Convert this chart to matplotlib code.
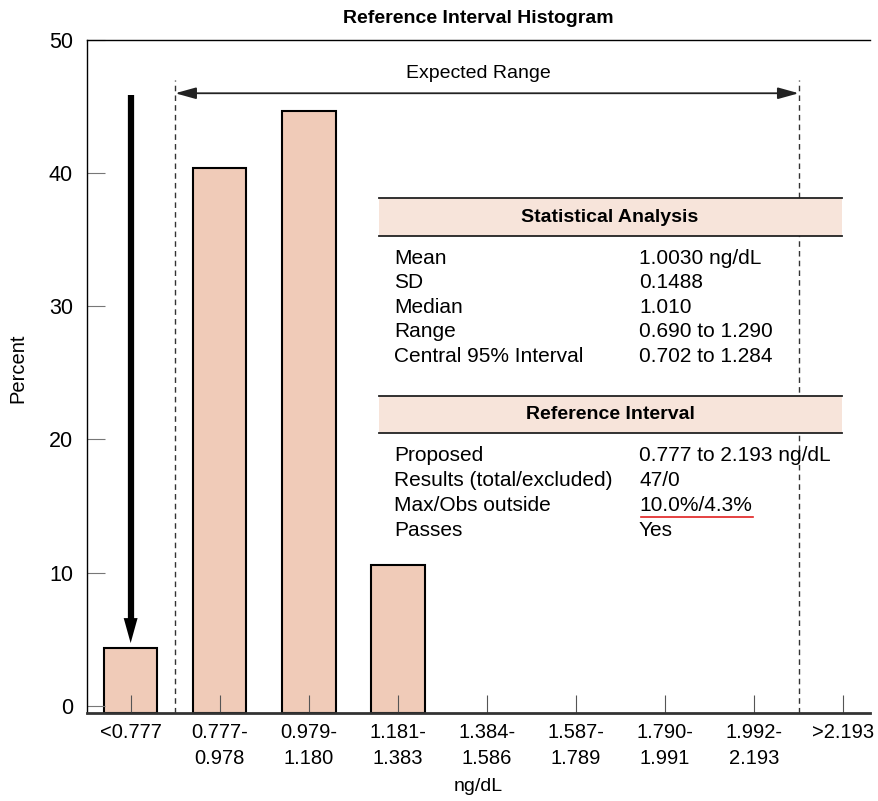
import matplotlib
matplotlib.use("Agg")
import matplotlib.pyplot as plt

plt.rcParams['font.family'] = ['Liberation Sans', 'DejaVu Sans']

# histogram data (percent of 47 results)
bins = ['<0.777', '0.777-\n0.978', '0.979-\n1.180', '1.181-\n1.383', '1.384-\n1.586',
        '1.587-\n1.789', '1.790-\n1.991', '1.992-\n2.193', '>2.193']
percent = [4.3, 40.4, 44.7, 10.6, 0, 0, 0, 0, 0]

stat_labels = ['Mean', 'SD', 'Median', 'Range', 'Central 95% Interval']
stat_values = ['1.0030 ng/dL', '0.1488', '1.010', '0.690 to 1.290', '0.702 to 1.284']
ref_labels = ['Proposed', 'Results (total/excluded)', 'Max/Obs outside', 'Passes']
ref_values = ['0.777 to 2.193 ng/dL', '47/0', '10.0%/4.3%', 'Yes']

bar_col = '#f0cbb8'
band_col = '#f7e4da'
W, H = 879, 801

fig = plt.figure(figsize=(8.79, 8.01), dpi=100)
ax = fig.add_axes([87 / W, 1 - 713 / H, (870 - 87) / W, (713 - 40) / H])

ymin = -0.55
xs = list(range(len(bins)))
for x, p in zip(xs, percent):
    if p > 0:
        ax.bar(x, p - ymin, bottom=ymin, width=0.6, color=bar_col,
               edgecolor='black', linewidth=1.5, zorder=1)
ax.set_xlim(-0.49, 8.3)
ax.set_ylim(ymin, 50)
ax.set_xticks(xs)
ax.set_xticklabels(bins, fontsize=14.5, linespacing=1.5)
ax.set_yticks([0, 10, 20, 30, 40, 50])
ax.tick_params(axis='y', direction='in', length=13, color='#777777', labelsize=15.5, pad=10)
ax.tick_params(axis='x', direction='in', length=13, color='#555555', pad=7)
ax.spines['right'].set_visible(False)
ax.spines['top'].set_linewidth(1.0)
ax.spines['left'].set_linewidth(1.0)
ax.spines['bottom'].set_linewidth(2.0)
ax.spines['bottom'].set_color('#333333')

ax.set_title('Reference Interval Histogram', fontsize=14, fontweight='bold', pad=12)
ax.set_ylabel('Percent', fontsize=14.5)
ax.yaxis.set_label_coords(-60 / 783, 0.513)
ax.set_xlabel('ng/dL', fontsize=14, labelpad=7)

# expected range markers
for xv in [0.5, 7.5]:
    ax.plot([xv, xv], [ymin, 47.0], ls=(0, (4, 3)), color='#333333', lw=1, zorder=0)
ax.annotate('', xy=(0.5, 46.0), xytext=(7.5, 46.0),
            arrowprops=dict(arrowstyle='<|-|>,head_length=0.9,head_width=0.25', color='#222222',
                            lw=1.3, mutation_scale=14, shrinkA=0, shrinkB=0))
ax.text(3.9, 47.5, 'Expected Range', ha='center', va='center', fontsize=14)

# big downward arrow over the low bin
ax.plot([0, 0], [45.9, 6.0], color='black', lw=4.5, solid_capstyle='butt')
ax.annotate('', xy=(0, 4.7), xytext=(0, 8.0),
            arrowprops=dict(arrowstyle='-|>,head_length=1.8,head_width=0.5', color='black',
                            lw=0, mutation_scale=10, shrinkA=0, shrinkB=0))

# statistics table (figure pixel coordinates)
def fx(px):
    return px / W

def fy(py):
    return 1 - py / H

def band(y0, y1, title):
    fig.patches.append(plt.Rectangle((fx(379), fy(y1)), fx(842) - fx(379), fy(y0) - fy(y1),
                                     transform=fig.transFigure, facecolor=band_col,
                                     edgecolor='none', zorder=3))
    for yy in [y0, y1]:
        fig.add_artist(plt.Line2D([fx(379), fx(842)], [fy(yy), fy(yy)], color='#222222',
                                  lw=1.3, zorder=4))
    fig.text(fx(610), fy((y0 + y1) / 2), title, ha='center', va='center',
             fontsize=14, fontweight='bold', zorder=5)

band(198, 236, 'Statistical Analysis')
for i, (lab, val) in enumerate(zip(stat_labels, stat_values)):
    yy = 258 + i * 24.5
    fig.text(fx(394), fy(yy), lab, ha='left', va='center', fontsize=15)
    fig.text(fx(639), fy(yy), val, ha='left', va='center', fontsize=15)

band(396, 433, 'Reference Interval')
for i, (lab, val) in enumerate(zip(ref_labels, ref_values)):
    yy = 455 + i * 25.3
    fig.text(fx(394), fy(yy), lab, ha='left', va='center', fontsize=15)
    fig.text(fx(639), fy(yy), val, ha='left', va='center', fontsize=15)
fig.add_artist(plt.Line2D([fx(641), fx(753)], [fy(517), fy(517)], color='#e02020', lw=1.2))

fig.savefig('out.png', dpi=100)
